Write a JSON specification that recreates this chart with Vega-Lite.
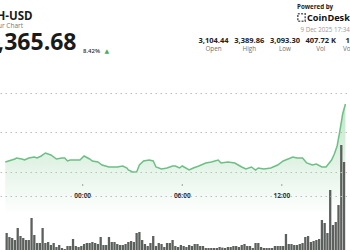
{
  "$schema": "https://vega.github.io/schema/vega-lite/v6.json",
  "width": 350,
  "height": 250,
  "autosize": "none",
  "padding": 0,
  "config": {"view": {"stroke": null}, "font": "Open Sans"},
  "datasets": {
    "price": [
      {"t": "2025-12-08T19:20", "price": 3138.0},
      {"t": "2025-12-08T19:55", "price": 3149.4},
      {"t": "2025-12-08T20:00", "price": 3153.2},
      {"t": "2025-12-08T20:20", "price": 3149.4},
      {"t": "2025-12-08T20:30", "price": 3145.6},
      {"t": "2025-12-08T20:45", "price": 3153.2},
      {"t": "2025-12-08T21:05", "price": 3157.0},
      {"t": "2025-12-08T21:15", "price": 3153.2},
      {"t": "2025-12-08T21:30", "price": 3160.8},
      {"t": "2025-12-08T21:45", "price": 3172.1},
      {"t": "2025-12-08T22:05", "price": 3164.5},
      {"t": "2025-12-08T22:25", "price": 3149.4},
      {"t": "2025-12-08T22:45", "price": 3153.2},
      {"t": "2025-12-08T22:55", "price": 3153.2},
      {"t": "2025-12-08T23:05", "price": 3141.8},
      {"t": "2025-12-08T23:15", "price": 3145.6},
      {"t": "2025-12-08T23:50", "price": 3145.6},
      {"t": "2025-12-09T00:05", "price": 3160.8},
      {"t": "2025-12-09T00:25", "price": 3149.4},
      {"t": "2025-12-09T00:35", "price": 3141.8},
      {"t": "2025-12-09T00:55", "price": 3138.0},
      {"t": "2025-12-09T01:10", "price": 3126.6},
      {"t": "2025-12-09T01:35", "price": 3119.0},
      {"t": "2025-12-09T02:05", "price": 3119.0},
      {"t": "2025-12-09T02:25", "price": 3122.8},
      {"t": "2025-12-09T02:40", "price": 3115.2},
      {"t": "2025-12-09T02:45", "price": 3107.6},
      {"t": "2025-12-09T03:00", "price": 3100.0},
      {"t": "2025-12-09T03:15", "price": 3100.0},
      {"t": "2025-12-09T03:25", "price": 3126.6},
      {"t": "2025-12-09T03:40", "price": 3141.8},
      {"t": "2025-12-09T04:00", "price": 3145.6},
      {"t": "2025-12-09T04:15", "price": 3141.8},
      {"t": "2025-12-09T04:25", "price": 3119.0},
      {"t": "2025-12-09T04:45", "price": 3111.4},
      {"t": "2025-12-09T05:05", "price": 3115.2},
      {"t": "2025-12-09T05:25", "price": 3122.8},
      {"t": "2025-12-09T05:35", "price": 3122.8},
      {"t": "2025-12-09T05:50", "price": 3115.2},
      {"t": "2025-12-09T06:00", "price": 3122.8},
      {"t": "2025-12-09T06:25", "price": 3107.6},
      {"t": "2025-12-09T06:40", "price": 3115.2},
      {"t": "2025-12-09T07:00", "price": 3122.8},
      {"t": "2025-12-09T07:25", "price": 3134.2},
      {"t": "2025-12-09T07:45", "price": 3138.0},
      {"t": "2025-12-09T08:10", "price": 3145.6},
      {"t": "2025-12-09T08:20", "price": 3134.2},
      {"t": "2025-12-09T08:45", "price": 3138.0},
      {"t": "2025-12-09T09:10", "price": 3134.2},
      {"t": "2025-12-09T09:35", "price": 3119.0},
      {"t": "2025-12-09T09:50", "price": 3111.4},
      {"t": "2025-12-09T10:10", "price": 3119.0},
      {"t": "2025-12-09T10:25", "price": 3107.6},
      {"t": "2025-12-09T10:35", "price": 3115.2},
      {"t": "2025-12-09T10:55", "price": 3111.4},
      {"t": "2025-12-09T11:20", "price": 3115.2},
      {"t": "2025-12-09T11:45", "price": 3126.6},
      {"t": "2025-12-09T12:05", "price": 3141.8},
      {"t": "2025-12-09T12:40", "price": 3157.0},
      {"t": "2025-12-09T12:55", "price": 3153.2},
      {"t": "2025-12-09T13:15", "price": 3153.2},
      {"t": "2025-12-09T13:30", "price": 3134.2},
      {"t": "2025-12-09T13:50", "price": 3126.6},
      {"t": "2025-12-09T14:05", "price": 3130.4},
      {"t": "2025-12-09T14:25", "price": 3119.0},
      {"t": "2025-12-09T14:40", "price": 3119.0},
      {"t": "2025-12-09T15:00", "price": 3145.6},
      {"t": "2025-12-09T15:10", "price": 3168.3},
      {"t": "2025-12-09T15:20", "price": 3198.7},
      {"t": "2025-12-09T15:30", "price": 3255.7},
      {"t": "2025-12-09T15:40", "price": 3320.2},
      {"t": "2025-12-09T15:50", "price": 3358.2}
    ],
    "volume": [
      {"t": "2025-12-08T19:25", "vol": 4.25},
      {"t": "2025-12-08T19:35", "vol": 3.25},
      {"t": "2025-12-08T19:45", "vol": 3.0},
      {"t": "2025-12-08T19:55", "vol": 2.5},
      {"t": "2025-12-08T20:05", "vol": 5.5},
      {"t": "2025-12-08T20:15", "vol": 3.5},
      {"t": "2025-12-08T20:25", "vol": 3.0},
      {"t": "2025-12-08T20:35", "vol": 2.5},
      {"t": "2025-12-08T20:45", "vol": 2.5},
      {"t": "2025-12-08T20:55", "vol": 8.0},
      {"t": "2025-12-08T21:05", "vol": 3.75},
      {"t": "2025-12-08T21:15", "vol": 1.75},
      {"t": "2025-12-08T21:25", "vol": 1.75},
      {"t": "2025-12-08T21:35", "vol": 5.5},
      {"t": "2025-12-08T21:45", "vol": 1.75},
      {"t": "2025-12-08T21:55", "vol": 2.0},
      {"t": "2025-12-08T22:05", "vol": 1.25},
      {"t": "2025-12-08T22:15", "vol": 1.75},
      {"t": "2025-12-08T22:25", "vol": 0.75},
      {"t": "2025-12-08T22:35", "vol": 1.25},
      {"t": "2025-12-08T22:45", "vol": 0.5},
      {"t": "2025-12-08T22:55", "vol": 0.25},
      {"t": "2025-12-08T23:05", "vol": 1.0},
      {"t": "2025-12-08T23:15", "vol": 1.0},
      {"t": "2025-12-08T23:25", "vol": 2.75},
      {"t": "2025-12-08T23:35", "vol": 1.0},
      {"t": "2025-12-08T23:45", "vol": 0.75},
      {"t": "2025-12-08T23:55", "vol": 1.0},
      {"t": "2025-12-09T00:05", "vol": 1.5},
      {"t": "2025-12-09T00:15", "vol": 1.75},
      {"t": "2025-12-09T00:25", "vol": 1.75},
      {"t": "2025-12-09T00:35", "vol": 2.0},
      {"t": "2025-12-09T00:45", "vol": 1.75},
      {"t": "2025-12-09T00:55", "vol": 1.5},
      {"t": "2025-12-09T01:05", "vol": 3.25},
      {"t": "2025-12-09T01:15", "vol": 1.25},
      {"t": "2025-12-09T01:25", "vol": 1.25},
      {"t": "2025-12-09T01:35", "vol": 3.25},
      {"t": "2025-12-09T01:45", "vol": 2.0},
      {"t": "2025-12-09T01:55", "vol": 2.0},
      {"t": "2025-12-09T02:05", "vol": 1.5},
      {"t": "2025-12-09T02:15", "vol": 1.25},
      {"t": "2025-12-09T02:25", "vol": 1.25},
      {"t": "2025-12-09T02:35", "vol": 1.5},
      {"t": "2025-12-09T02:45", "vol": 2.0},
      {"t": "2025-12-09T02:55", "vol": 2.25},
      {"t": "2025-12-09T03:05", "vol": 2.0},
      {"t": "2025-12-09T03:15", "vol": 4.25},
      {"t": "2025-12-09T03:25", "vol": 4.5},
      {"t": "2025-12-09T03:35", "vol": 2.5},
      {"t": "2025-12-09T03:45", "vol": 1.5},
      {"t": "2025-12-09T03:55", "vol": 1.0},
      {"t": "2025-12-09T04:05", "vol": 1.75},
      {"t": "2025-12-09T04:15", "vol": 3.5},
      {"t": "2025-12-09T04:25", "vol": 1.0},
      {"t": "2025-12-09T04:35", "vol": 1.75},
      {"t": "2025-12-09T04:45", "vol": 1.5},
      {"t": "2025-12-09T04:55", "vol": 0.75},
      {"t": "2025-12-09T05:05", "vol": 1.75},
      {"t": "2025-12-09T05:15", "vol": 1.75},
      {"t": "2025-12-09T05:25", "vol": 2.5},
      {"t": "2025-12-09T05:35", "vol": 1.0},
      {"t": "2025-12-09T05:45", "vol": 0.75},
      {"t": "2025-12-09T05:55", "vol": 1.25},
      {"t": "2025-12-09T06:05", "vol": 1.0},
      {"t": "2025-12-09T06:15", "vol": 0.75},
      {"t": "2025-12-09T06:25", "vol": 1.25},
      {"t": "2025-12-09T06:35", "vol": 1.0},
      {"t": "2025-12-09T06:45", "vol": 1.5},
      {"t": "2025-12-09T06:55", "vol": 1.5},
      {"t": "2025-12-09T07:05", "vol": 1.0},
      {"t": "2025-12-09T07:15", "vol": 1.0},
      {"t": "2025-12-09T07:25", "vol": 0.5},
      {"t": "2025-12-09T07:35", "vol": 0.5},
      {"t": "2025-12-09T07:45", "vol": 0.5},
      {"t": "2025-12-09T07:55", "vol": 0.5},
      {"t": "2025-12-09T08:05", "vol": 0.5},
      {"t": "2025-12-09T08:15", "vol": 0.75},
      {"t": "2025-12-09T08:25", "vol": 0.6},
      {"t": "2025-12-09T08:35", "vol": 0.5},
      {"t": "2025-12-09T08:45", "vol": 0.75},
      {"t": "2025-12-09T08:55", "vol": 0.75},
      {"t": "2025-12-09T09:05", "vol": 1.0},
      {"t": "2025-12-09T09:15", "vol": 1.0},
      {"t": "2025-12-09T09:25", "vol": 0.75},
      {"t": "2025-12-09T09:35", "vol": 1.25},
      {"t": "2025-12-09T09:45", "vol": 1.5},
      {"t": "2025-12-09T09:55", "vol": 1.0},
      {"t": "2025-12-09T10:05", "vol": 1.0},
      {"t": "2025-12-09T10:15", "vol": 0.5},
      {"t": "2025-12-09T10:25", "vol": 1.75},
      {"t": "2025-12-09T10:35", "vol": 1.75},
      {"t": "2025-12-09T10:45", "vol": 0.75},
      {"t": "2025-12-09T10:55", "vol": 0.5},
      {"t": "2025-12-09T11:05", "vol": 0.5},
      {"t": "2025-12-09T11:15", "vol": 0.5},
      {"t": "2025-12-09T11:25", "vol": 0.5},
      {"t": "2025-12-09T11:35", "vol": 1.0},
      {"t": "2025-12-09T11:45", "vol": 1.0},
      {"t": "2025-12-09T11:55", "vol": 1.0},
      {"t": "2025-12-09T12:05", "vol": 1.0},
      {"t": "2025-12-09T12:15", "vol": 4.0},
      {"t": "2025-12-09T12:25", "vol": 1.5},
      {"t": "2025-12-09T12:35", "vol": 1.5},
      {"t": "2025-12-09T12:45", "vol": 1.25},
      {"t": "2025-12-09T12:55", "vol": 1.25},
      {"t": "2025-12-09T13:05", "vol": 1.5},
      {"t": "2025-12-09T13:15", "vol": 1.75},
      {"t": "2025-12-09T13:25", "vol": 3.25},
      {"t": "2025-12-09T13:35", "vol": 3.5},
      {"t": "2025-12-09T13:45", "vol": 2.0},
      {"t": "2025-12-09T13:55", "vol": 2.25},
      {"t": "2025-12-09T14:05", "vol": 2.5},
      {"t": "2025-12-09T14:15", "vol": 2.75},
      {"t": "2025-12-09T14:25", "vol": 7.5},
      {"t": "2025-12-09T14:35", "vol": 6.75},
      {"t": "2025-12-09T14:45", "vol": 4.25},
      {"t": "2025-12-09T14:55", "vol": 15.0},
      {"t": "2025-12-09T15:05", "vol": 6.25},
      {"t": "2025-12-09T15:15", "vol": 7.0},
      {"t": "2025-12-09T15:25", "vol": 11.25},
      {"t": "2025-12-09T15:35", "vol": 26.25},
      {"t": "2025-12-09T15:45", "vol": 22.0}
    ],
    "hours": [
      {"t": "2025-12-09T00:00", "label": "00:00"},
      {"t": "2025-12-09T06:00", "label": "06:00"},
      {"t": "2025-12-09T12:00", "label": "12:00"}
    ],
    "stats": [
      {"stat": "Open", "value": "3,104.44"},
      {"stat": "High", "value": "3,389.86"},
      {"stat": "Low", "value": "3,093.30"},
      {"stat": "Vol", "value": "407.72 K"},
      {"stat": "Vol (USD)", "value": "1.30 B"}
    ]
  },
  "layer": [
    {
      "layer": [
        {
          "data": {"name": "price"},
          "mark": {
            "type": "area",
            "clip": true,
            "color": {
              "gradient": "linear", "x1": 0, "y1": 0, "x2": 0, "y2": 1,
              "stops": [
                {"offset": 0, "color": "#bfe6c8"},
                {"offset": 0.5, "color": "#e0f2e4"},
                {"offset": 1, "color": "#ffffff"}
              ]
            }
          },
          "encoding": {
            "x": {
              "field": "t", "type": "temporal",
              "scale": {"domain": [
                {"year": 2025, "month": 12, "date": 8, "hours": 19, "minutes": 19},
                {"year": 2025, "month": 12, "date": 9, "hours": 15, "minutes": 48, "seconds": 30}
              ]},
              "axis": null
            },
            "y": {
              "field": "price", "type": "quantitative",
              "scale": {"domain": [2803.8, 3753.1], "nice": false, "zero": false},
              "axis": {
                "values": [3009, 3100, 3250, 3400], "grid": true, "gridDash": [1.5, 3.5],
                "gridColor": "#bdbdbd", "gridWidth": 1, "labels": false, "ticks": false,
                "domain": false, "title": null, "zindex": 1
              }
            },
            "y2": {"datum": 2937}
          }
        },
        {
          "data": {"name": "price"},
          "mark": {"type": "line", "clip": true, "color": "#6cc085", "strokeWidth": 1.5},
          "encoding": {
            "x": {"field": "t", "type": "temporal"},
            "y": {
              "field": "price", "type": "quantitative",
              "scale": {"domain": [2803.8, 3753.1], "nice": false, "zero": false},
              "axis": null
            }
          }
        },
        {
          "data": {"name": "volume"},
          "mark": {"type": "bar", "clip": true, "color": "#5c605d", "size": 2.3},
          "encoding": {
            "x": {"field": "t", "type": "temporal"},
            "y": {
              "field": "vol", "type": "quantitative",
              "scale": {"domain": [0, 62.5], "nice": false},
              "axis": null
            }
          }
        },
        {
          "data": {"name": "hours"},
          "mark": {"type": "rule", "color": "#a0a0a0", "strokeWidth": 1},
          "encoding": {
            "x": {"field": "t", "type": "temporal"},
            "y": {"value": 184},
            "y2": {"value": 186}
          }
        },
        {
          "data": {"name": "hours"},
          "mark": {"type": "text", "align": "center", "baseline": "middle", "font": "Open Sans", "fontSize": 6.5, "fontWeight": "bold", "color": "#333333"},
          "encoding": {
            "x": {"field": "t", "type": "temporal"},
            "y": {"value": 196},
            "text": {"field": "label"}
          }
        }
      ],
      "resolve": {"scale": {"y": "independent"}}
    },
    {
      "data": {"values": [{"label": "ETH-USD"}]},
      "mark": {"type": "text", "align": "right", "baseline": "alphabetic", "font": "Open Sans", "fontSize": 11.5, "fontWeight": "bold", "color": "#1a1a1a"},
      "encoding": {"text": {"field": "label"}, "x": {"value": 32.5}, "y": {"value": 20}}
    },
    {
      "data": {"values": [{"label": "24 Hour Chart"}]},
      "mark": {"type": "text", "align": "right", "baseline": "alphabetic", "font": "Open Sans", "fontSize": 6.5, "color": "#777777"},
      "encoding": {"text": {"field": "label"}, "x": {"value": 23}, "y": {"value": 27.5}}
    },
    {
      "data": {"values": [{"label": "$3,365.68"}]},
      "mark": {"type": "text", "align": "right", "baseline": "alphabetic", "font": "Open Sans", "fontSize": 23, "fontWeight": "bold", "color": "#1a1a1a"},
      "encoding": {"text": {"field": "label"}, "x": {"value": 76.5}, "y": {"value": 50}}
    },
    {
      "data": {"values": [{"label": "8.42%"}]},
      "mark": {"type": "text", "align": "left", "baseline": "alphabetic", "font": "Open Sans", "fontSize": 6, "fontWeight": 600, "color": "#333333"},
      "encoding": {"text": {"field": "label"}, "x": {"value": 83}, "y": {"value": 52.7}}
    },
    {
      "data": {"values": [{"label": "▲"}]},
      "mark": {"type": "text", "align": "left", "baseline": "alphabetic", "font": "DejaVu Sans", "fontSize": 6, "color": "#3fae5e"},
      "encoding": {"text": {"field": "label"}, "x": {"value": 104.5}, "y": {"value": 53}}
    },
    {
      "data": {"values": [{"label": "Powered by"}]},
      "mark": {"type": "text", "align": "left", "baseline": "alphabetic", "font": "Open Sans", "fontSize": 6.2, "fontWeight": "bold", "color": "#222222"},
      "encoding": {"text": {"field": "label"}, "x": {"value": 297}, "y": {"value": 8.5}}
    },
    {
      "data": {"values": [{"label": "logo"}]},
      "mark": {"type": "point", "shape": "square", "size": 55, "filled": false, "stroke": "#222222", "strokeWidth": 1.6, "strokeDash": [2, 1.3]},
      "encoding": {"x": {"value": 301.5}, "y": {"value": 17.5}}
    },
    {
      "data": {"values": [{"label": "CoinDesk Indices"}]},
      "mark": {"type": "text", "align": "left", "baseline": "alphabetic", "font": "Open Sans", "fontSize": 9.2, "fontWeight": "bold", "color": "#111111"},
      "encoding": {"text": {"field": "label"}, "x": {"value": 307}, "y": {"value": 21}}
    },
    {
      "data": {"values": [{"label": "9 Dec 2025 17:34"}]},
      "mark": {"type": "text", "align": "left", "baseline": "alphabetic", "font": "Open Sans", "fontSize": 6.2, "color": "#9a9a9a"},
      "encoding": {"text": {"field": "label"}, "x": {"value": 300.5}, "y": {"value": 31.8}}
    },
    {
      "data": {"name": "stats"},
      "mark": {"type": "text", "align": "center", "baseline": "alphabetic", "font": "Open Sans", "fontSize": 7.5, "fontWeight": "bold", "color": "#222222"},
      "encoding": {
        "text": {"field": "value"},
        "x": {"field": "stat", "type": "nominal", "sort": null, "scale": {"type": "point", "range": [213.5, 356.5], "padding": 0}, "axis": null},
        "y": {"value": 42.7}
      }
    },
    {
      "data": {"name": "stats"},
      "mark": {"type": "text", "align": "center", "baseline": "alphabetic", "font": "Open Sans", "fontSize": 6.3, "color": "#6f6f6f"},
      "encoding": {
        "text": {"field": "stat"},
        "x": {"field": "stat", "type": "nominal", "sort": null, "scale": {"type": "point", "range": [213.5, 356.5], "padding": 0}, "axis": null},
        "y": {"value": 50.7}
      }
    }
  ],
  "resolve": {"scale": {"x": "independent", "y": "independent"}}
}
